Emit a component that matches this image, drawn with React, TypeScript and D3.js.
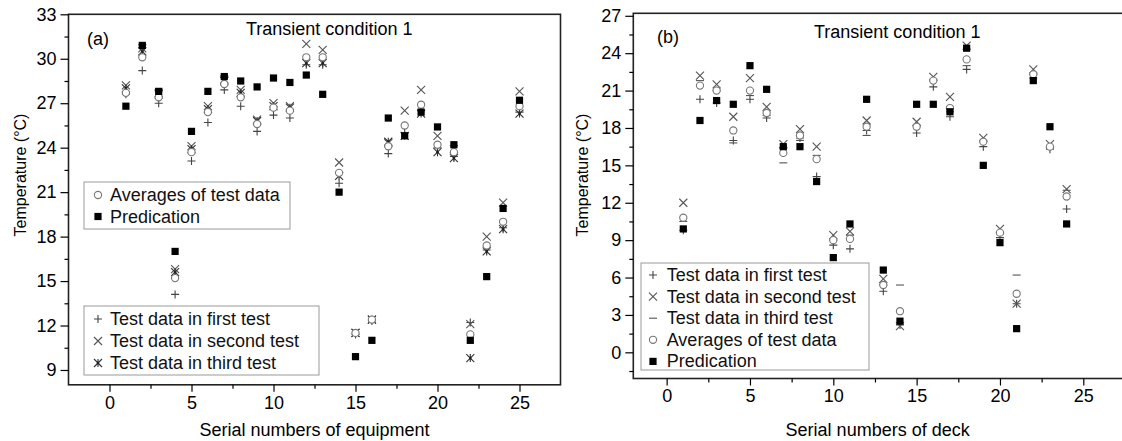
import React, { useEffect, useRef } from "react";
import * as d3 from "d3";

// panel (a): equipment
const equipIds = [1, 2, 3, 4, 5, 6, 7, 8, 9, 10, 11, 12, 13, 14, 15, 16, 17, 18, 19, 20, 21, 22, 23, 24, 25];
const equipTest1 = [27.6, 29.2, 27.0, 14.1, 23.1, 25.7, 27.9, 26.8, 25.1, 26.2, 26.0, 29.6, 29.6, 21.6, 11.4, 12.3, 23.6, 25.0, 26.5, 24.0, 23.4, 12.2, 17.1, 18.6, 26.4];
const equipTest2 = [28.2, 30.7, 27.7, 15.8, 24.1, 26.8, 28.6, 27.9, 25.9, 27.0, 26.8, 31.0, 30.6, 23.0, 11.5, 12.4, 24.3, 26.5, 27.9, 24.8, 23.9, 12.1, 18.0, 20.3, 27.8];
const equipTest3 = [28.0, 30.5, 27.6, 15.6, 23.9, 26.6, 28.5, 27.7, 25.8, 26.8, 26.7, 29.7, 29.7, 22.1, 11.5, 12.4, 24.4, 24.8, 26.3, 23.7, 23.3, 9.8, 17.0, 18.5, 26.3];
const equipAvg = [27.7, 30.1, 27.4, 15.2, 23.7, 26.4, 28.3, 27.4, 25.6, 26.7, 26.5, 30.1, 30.1, 22.3, 11.5, 12.4, 24.1, 25.5, 26.9, 24.2, 23.7, 11.4, 17.4, 19.0, 26.8];
const equipPred = [26.8, 30.9, 27.8, 17.0, 25.1, 27.8, 28.8, 28.5, 28.1, 28.7, 28.4, 28.9, 27.6, 21.0, 9.9, 11.0, 26.0, 24.8, 26.4, 25.4, 24.2, 11.0, 15.3, 19.9, 27.2];

// panel (b): deck
const deckIds = [1, 2, 3, 4, 5, 6, 7, 8, 9, 10, 11, 12, 13, 14, 15, 16, 17, 18, 19, 20, 21, 22, 23, 24];
const deckTest1 = [9.8, 20.3, 20.0, 17.0, 20.3, 18.8, 16.4, 17.2, 14.1, 8.6, 8.3, 17.8, 4.9, 2.2, 17.6, 21.3, 18.9, 22.7, 16.5, 9.2, 3.9, 22.3, 16.3, 11.5];
const deckTest2 = [12.0, 22.2, 21.5, 18.9, 22.0, 19.7, 16.7, 17.9, 16.5, 9.4, 9.7, 18.6, 5.9, 2.1, 18.5, 22.1, 20.5, 24.6, 17.2, 9.9, 3.9, 22.7, 16.7, 13.1];
const deckTest3 = [10.5, 21.8, 21.0, 16.8, 20.6, 19.0, 15.2, 17.0, 15.8, 9.0, 9.4, 17.4, 5.4, 5.4, 18.2, 21.9, 19.3, 23.0, 17.0, 9.5, 6.2, 22.0, 16.5, 13.0];
const deckAvg = [10.8, 21.4, 21.0, 17.8, 21.0, 19.2, 16.0, 17.4, 15.5, 9.0, 9.1, 18.1, 5.4, 3.3, 18.1, 21.8, 19.6, 23.5, 16.9, 9.6, 4.7, 22.3, 16.5, 12.5];
const deckPred = [9.9, 18.6, 20.2, 19.9, 23.0, 21.1, 16.5, 16.5, 13.7, 7.6, 10.3, 20.3, 6.6, 2.5, 19.9, 19.9, 19.3, 24.4, 15.0, 8.8, 1.9, 21.8, 18.1, 10.3];

const xTicks = [0, 5, 10, 15, 20, 25];
const xMinorTicks = [2.5, 7.5, 12.5, 17.5, 22.5];
const equipYTicks = [9, 12, 15, 18, 21, 24, 27, 30, 33];
const equipYMinor = [10.5, 13.5, 16.5, 19.5, 22.5, 25.5, 28.5, 31.5];
const deckYTicks = [0, 3, 6, 9, 12, 15, 18, 21, 24, 27];
const deckYMinor = [-1.5, 1.5, 4.5, 7.5, 10.5, 13.5, 16.5, 19.5, 22.5, 25.5];

const FONT = "'Liberation Sans', Arial, sans-serif";

type Kind = "plus" | "times" | "star" | "dash" | "circle" | "square";

const markerStyle: Record<Kind, { color: string }> = {
  plus: { color: "#444" },
  times: { color: "#555" },
  star: { color: "#333" },
  dash: { color: "#555" },
  circle: { color: "#777" },
  square: { color: "#000" },
};

function Marker({ kind, x, y }: { kind: Kind; x: number; y: number }) {
  const c = markerStyle[kind].color;
  const s = 4;
  if (kind === "circle") return <circle cx={x} cy={y} r={3.6} fill="white" stroke={c} strokeWidth={1.1} />;
  if (kind === "square") return <rect x={x - 3.6} y={y - 3.6} width={7.2} height={7.2} fill={c} />;
  let d = "";
  if (kind === "plus") d = `M${-s},0H${s}M0,${-s}V${s}`;
  if (kind === "times") d = `M${-s},${-s}L${s},${s}M${-s},${s}L${s},${-s}`;
  if (kind === "dash") d = `M${-s},0H${s}`;
  if (kind === "star") d = `M${-s},${-s}L${s},${s}M${-s},${s}L${s},${-s}M0,${-s}V${s}`;
  return (
    <g transform={`translate(${x},${y})`}>
      <path d={d} stroke={c} strokeWidth={1.1} fill="none" />
      {kind === "star" && <circle r={1.3} fill="#222" />}
    </g>
  );
}

type Series = { kind: Kind; label: string; values: number[] };
type LegendBox = { x: number; y: number; w: number; h: number; items: Series[]; firstBase: number; step: number; symX: number; textX: number };

type PanelCfg = {
  left: number; right: number; top: number; bottom: number;
  xDomain: [number, number]; yDomain: [number, number];
  yTicks: number[]; yMinor: number[];
  ids: number[]; series: Series[];
  tag: string; tagX: number; tagY: number;
  titleX: number; titleY: number;
  xLabel: string; yLabelX: number; yLabelY: number;
  legends: LegendBox[];
};

function Panel({ cfg }: { cfg: PanelCfg }) {
  const xRef = useRef<SVGGElement>(null);
  const xMinRef = useRef<SVGGElement>(null);
  const yRef = useRef<SVGGElement>(null);
  const yMinRef = useRef<SVGGElement>(null);

  const x = d3.scaleLinear().domain(cfg.xDomain).range([cfg.left, cfg.right]);
  const y = d3.scaleLinear().domain(cfg.yDomain).range([cfg.bottom, cfg.top]);

  useEffect(() => {
    const style = (g: any) => {
      g.select(".domain").remove();
      g.attr("font-size", 18).attr("font-family", FONT);
      g.selectAll("line").attr("stroke", "#000").attr("stroke-width", 1.2);
      g.selectAll("text").attr("fill", "#000");
    };
    d3.select(xRef.current).call(d3.axisBottom(x).tickValues(xTicks).tickSize(7).tickPadding(4)).call(style);
    d3.select(xMinRef.current).call(d3.axisBottom(x).tickValues(xMinorTicks).tickSize(4).tickFormat(() => "")).call(style);
    d3.select(yRef.current).call(d3.axisLeft(y).tickValues(cfg.yTicks).tickSize(8).tickPadding(4)).call(style);
    d3.select(yMinRef.current).call(d3.axisLeft(y).tickValues(cfg.yMinor).tickSize(4).tickFormat(() => "")).call(style);
  }, []);

  const midX = (cfg.left + Math.min(cfg.right, 1122)) / 2;

  return (
    <g>
      {cfg.legends.map((lg, i) => (
        <g key={i}>
          <rect x={lg.x} y={lg.y} width={lg.w} height={lg.h} fill="white" stroke="#999" strokeWidth={1} />
          {lg.items.map((it, j) => {
            const base = lg.firstBase + j * lg.step;
            return (
              <g key={j}>
                <Marker kind={it.kind} x={lg.symX} y={base - 6} />
                <text x={lg.textX} y={base} fontSize={18} fontFamily={FONT} fill="#111">{it.label}</text>
              </g>
            );
          })}
        </g>
      ))}
      {cfg.series.map((s) => (
        <g key={s.kind}>
          {cfg.ids.map((id, i) => (
            <Marker key={id} kind={s.kind} x={x(id)} y={y(s.values[i])} />
          ))}
        </g>
      ))}
      <rect x={cfg.left} y={cfg.top} width={cfg.right - cfg.left} height={cfg.bottom - cfg.top} fill="none" stroke="#222" strokeWidth={1.6} />
      <g ref={xRef} transform={`translate(0,${cfg.bottom})`} />
      <g ref={xMinRef} transform={`translate(0,${cfg.bottom})`} />
      <g ref={yRef} transform={`translate(${cfg.left},0)`} />
      <g ref={yMinRef} transform={`translate(${cfg.left},0)`} />
      <text x={cfg.tagX} y={cfg.tagY} fontSize={18} fontFamily={FONT}>{cfg.tag}</text>
      <text x={cfg.titleX} y={cfg.titleY} fontSize={18} fontFamily={FONT}>Transient condition 1</text>
      <text x={midX} y={436} textAnchor="middle" fontSize={18} fontFamily={FONT}>{cfg.xLabel}</text>
      <text transform={`translate(${cfg.yLabelX},${cfg.yLabelY}) rotate(-90)`} textAnchor="middle" fontSize={16} fontFamily={FONT}>Temperature (°C)</text>
    </g>
  );
}

export default function App() {
  const eqSeries: Series[] = [
    { kind: "plus", label: "Test data in first test", values: equipTest1 },
    { kind: "times", label: "Test data in second test", values: equipTest2 },
    { kind: "star", label: "Test data in third test", values: equipTest3 },
    { kind: "circle", label: "Averages of test data", values: equipAvg },
    { kind: "square", label: "Predication", values: equipPred },
  ];
  const dkSeries: Series[] = [
    { kind: "plus", label: "Test data in first test", values: deckTest1 },
    { kind: "times", label: "Test data in second test", values: deckTest2 },
    { kind: "dash", label: "Test data in third test", values: deckTest3 },
    { kind: "circle", label: "Averages of test data", values: deckAvg },
    { kind: "square", label: "Predication", values: deckPred },
  ];

  const panelA: PanelCfg = {
    left: 68.5, right: 560.5, top: 14.3, bottom: 384.8,
    xDomain: [-2.5, 27.5], yDomain: [8, 33],
    yTicks: equipYTicks, yMinor: equipYMinor,
    ids: equipIds, series: eqSeries,
    tag: "(a)", tagX: 87, tagY: 45, titleX: 246, titleY: 35,
    xLabel: "Serial numbers of equipment", yLabelX: 26, yLabelY: 175,
    legends: [
      { x: 84, y: 182, w: 206, h: 47, items: [eqSeries[3], eqSeries[4]], firstBase: 201, step: 21.5, symX: 98, textX: 110 },
      { x: 84, y: 306, w: 235, h: 69, items: [eqSeries[0], eqSeries[1], eqSeries[2]], firstBase: 325, step: 22, symX: 98, textX: 110 },
    ],
  };

  const panelB: PanelCfg = {
    left: 633.3, right: 1133.3, top: 13.3, bottom: 378.5,
    xDomain: [-2, 28], yDomain: [-2.1, 27.2],
    yTicks: deckYTicks, yMinor: deckYMinor,
    ids: deckIds, series: dkSeries,
    tag: "(b)", tagX: 657, tagY: 43, titleX: 814, titleY: 38,
    xLabel: "Serial numbers of deck", yLabelX: 588, yLabelY: 175,
    legends: [
      { x: 641, y: 263, w: 228, h: 107, items: dkSeries, firstBase: 281, step: 21.6, symX: 653, textX: 666.7 },
    ],
  };

  return (
    <svg width={1122} height={441} style={{ position: "absolute", left: 0, top: 0, background: "white" }}>
      <Panel cfg={panelA} />
      <Panel cfg={panelB} />
    </svg>
  );
}
